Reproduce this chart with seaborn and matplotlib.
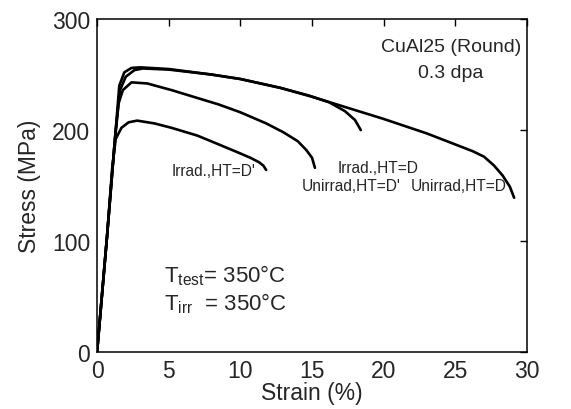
import numpy as np
import pandas as pd
import seaborn as sns
import matplotlib.pyplot as plt

# stress-strain curves (strain %, stress MPa)
unirr_d_strain = [0, 0.7, 1.3, 1.6, 2.0, 2.6, 3.2, 5, 8, 10, 12.8, 15, 18, 20, 23, 25, 26.2, 27.0, 27.7, 28.3, 28.8, 29.1]
unirr_d_stress = [0, 105, 200, 236, 248, 254, 255.5, 254.5, 250, 246, 238, 230, 218, 210, 197, 187, 181, 176, 168, 159, 149, 139]

irr_d_strain = [0, 0.7, 1.3, 1.55, 1.9, 2.4, 3.0, 5, 8, 10, 12.8, 14.8, 16.2, 17.3, 18.0, 18.4]
irr_d_stress = [0, 105, 200, 240, 252, 256, 256.5, 255, 250, 246, 238, 231, 225, 217, 209, 200]

unirr_dp_strain = [0, 0.7, 1.2, 1.5, 1.8, 2.4, 3.5, 5.2, 8.5, 10, 11.8, 13, 14.0, 14.6, 15.0, 15.2]
unirr_dp_stress = [0, 105, 185, 224, 236, 243, 242, 236, 223, 216, 206, 198, 190, 182, 175, 166]

irr_dp_strain = [0, 0.7, 1.05, 1.3, 1.7, 2.2, 2.8, 4, 5.2, 7, 8.5, 9.8, 10.7, 11.3, 11.6, 11.8]
irr_dp_stress = [0, 105, 165, 192, 202, 207, 208.5, 206, 202, 195, 187, 180, 175, 171, 168, 164]

curve_names = ["Unirrad,HT=D", "Irrad.,HT=D", "Unirrad,HT=D'", "Irrad.,HT=D'"]
curve_strain = [unirr_d_strain, irr_d_strain, unirr_dp_strain, irr_dp_strain]
curve_stress = [unirr_d_stress, irr_d_stress, unirr_dp_stress, irr_dp_stress]

# label anchor points (strain, stress)
label_x = [25.2, 19.6, 17.7, 8.1]
label_y = [150, 166, 150, 164]

x_ticks = [0, 5, 10, 15, 20, 25, 30]
y_ticks = [0, 100, 200, 300]

rows = []
for name, xs, ys in zip(curve_names, curve_strain, curve_stress):
    for i, (x, y) in enumerate(zip(xs, ys)):
        rows.append({"curve": name, "order": i, "strain": x, "stress": y})
df = pd.DataFrame(rows)

sns.set_style("white")
plt.rcParams['font.family'] = ['Liberation Sans', 'DejaVu Sans']

fig = plt.figure(figsize=(5.71, 4.10), dpi=100)
ax = fig.add_axes([0.170, 0.139, 0.753, 0.812])

for name in curve_names:
    sub = df[df["curve"] == name]
    sns.lineplot(data=sub, x="strain", y="stress", sort=False, estimator=None,
                 color="black", linewidth=1.9, ax=ax, legend=False)

for name, lx, ly in zip(curve_names, label_x, label_y):
    ax.text(lx, ly, name, fontsize=11.2, ha="center", va="center")

ax.text(24.7, 275, "CuAl25 (Round)", fontsize=14, ha="center", va="center")
ax.text(24.7, 252, "0.3 dpa", fontsize=14, ha="center", va="center")
ax.text(4.7, 70, r"T$_{\mathregular{test}}$= 350°C", fontsize=16, ha="left", va="center")
ax.text(4.7, 44, r"T$_{\mathregular{irr}}$  = 350°C", fontsize=16, ha="left", va="center")

ax.set_xlim(0, 30)
ax.set_ylim(0, 300)
ax.set_xticks(x_ticks)
ax.set_yticks(y_ticks)
ax.set_xlabel("Strain (%)", fontsize=16.5, labelpad=-1)
ax.set_ylabel("Stress (MPa)", fontsize=16.5, labelpad=8)
ax.tick_params(axis="both", which="major", direction="in", length=5, width=1,
               top=True, right=True, labelsize=16.5, pad=5, color="black")
for s in ax.spines.values():
    s.set_color("black")
    s.set_linewidth(1.1)

fig.savefig("out.png", dpi=100)
